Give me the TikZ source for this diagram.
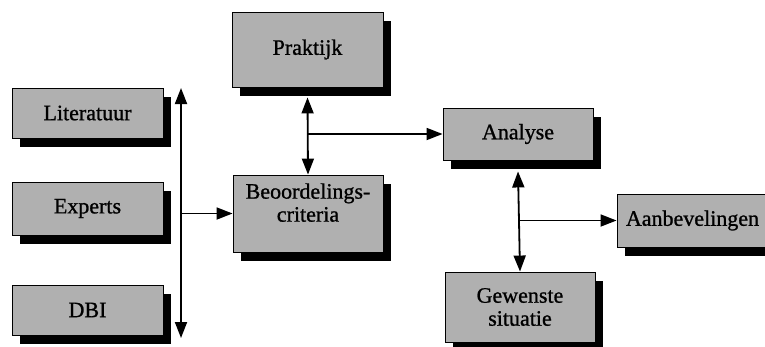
\documentclass[tikz,border=0pt]{standalone}
\usepackage{fontspec}
\setmainfont{Liberation Serif}
\newfontfamily\boxfont{Liberation Serif}[BoldFont=Liberation Serif, BoldFeatures={FakeBold=1.0}]
\usetikzlibrary{arrows.meta,shadows}
\begin{document}
\begin{tikzpicture}[x=1pt,y=-1pt,
  block/.style={draw=black, line width=0.9pt, fill=gray!62,
    minimum width=151pt, inner sep=2pt, align=center,
    font=\boxfont\bfseries\fontsize{22}{23}\selectfont,
    drop shadow={shadow xshift=8pt, shadow yshift=-9pt, fill=black, opacity=1}},
  tip/.tip={Triangle[width=12pt,length=16pt]},
  link/.style={line width=1.8pt, -tip},
  biarrow/.style={line width=1.8pt, tip-tip}
]
\useasboundingbox (0,0) rectangle (765,346);

% source boxes on the left
\node[block, minimum height=50pt] (lit) at (87.5,113) {Literatuur};
\node[block, minimum height=53pt] (exp) at (87.5,208.5) {Experts};
\node[block, minimum height=50pt] (dbi) at (87.5,310) {DBI};

% central column
\node[block, minimum height=75pt] (prak) at (307.5,49.5) {Praktijk};
\node[block, minimum height=77pt, minimum width=150pt, text depth=22pt] (beo) at (308,213.5) {Beoordelings-\\criteria};

% right part
\node[block, minimum height=52pt, minimum width=150pt] (ana) at (518,134) {Analyse};
\node[block, minimum height=70pt, minimum width=150pt] (gew) at (520,307) {Gewenste\\situatie};
\node[block, minimum height=53pt] (aan) at (692.5,220.5) {Aanbevelingen};

% vertical bus collecting the sources
\coordinate (busTop) at (181,88);
\coordinate (busBot) at (181,338);
\draw[biarrow] (busTop) -- (busBot);
\draw[link] (busTop |- beo.west) -- (beo.west);

% Praktijk <-> criteria, with branch to Analyse
\draw[biarrow] ([yshift=-10pt]prak.south) -- (beo.north);
\draw[link] (beo.north |- ana.west) -- (ana.west);

% Analyse <-> Gewenste situatie, with branch to Aanbevelingen
\draw[biarrow] ([yshift=-11pt]ana.south) -- (gew.north);
\draw[link] (ana.south |- aan.west) -- (aan.west);
\end{tikzpicture}
\end{document}
